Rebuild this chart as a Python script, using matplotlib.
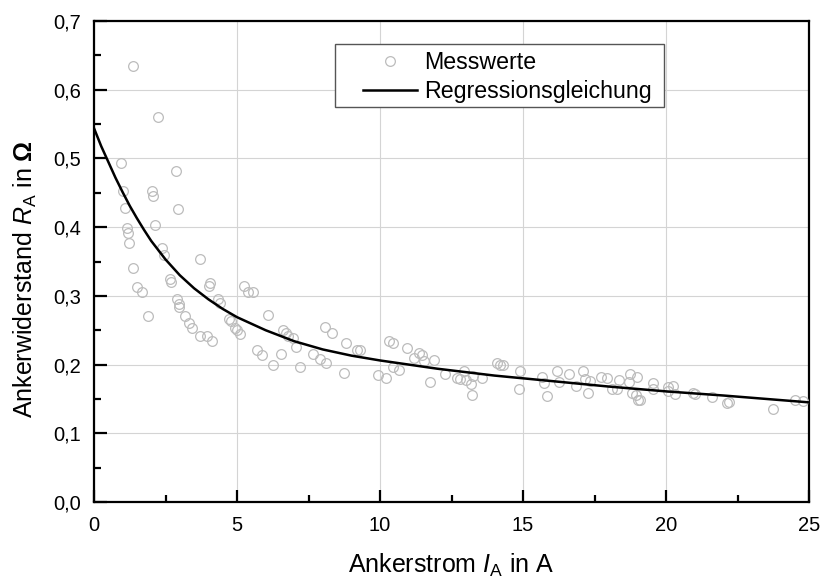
import matplotlib
matplotlib.use("Agg")
import matplotlib.pyplot as plt
from matplotlib.ticker import MultipleLocator, FuncFormatter
from matplotlib.patches import Rectangle

# ---- data ----
strom = [1.35, 2.23, 0.93, 2.86, 1.00, 2.02, 2.05, 1.07, 2.95, 2.13, 1.14, 1.18, 1.22,
         2.39, 2.46, 3.72, 1.35, 2.66, 2.69, 4.06, 1.49, 4.01, 1.69, 2.89, 2.96, 2.96,
         4.35, 4.41, 1.90, 3.18, 3.33, 3.42, 5.24, 5.40, 5.57, 6.10, 4.72, 4.78, 3.96,
         4.11, 3.71, 4.93, 4.99, 5.10, 6.60, 6.70, 6.79, 6.95, 7.05, 8.08, 8.33, 8.81,
         9.18, 9.30, 5.69, 5.86, 6.53, 6.27, 7.67, 7.90, 8.11, 7.20, 8.74, 9.94, 10.31,
         10.47, 10.93, 11.35, 11.46, 11.19, 11.54, 11.89, 10.20, 10.47, 10.66, 11.75,
         12.27, 12.95, 12.70, 12.80, 13.01, 13.26, 13.17, 13.57, 13.22, 14.10, 14.20,
         14.31, 14.90, 14.86, 15.65, 15.75, 15.85, 16.18, 16.27, 16.61, 16.84, 17.09,
         17.17, 17.34, 17.28, 17.72, 17.95, 18.10, 18.30, 18.36, 18.74, 19.00, 18.72,
         18.80, 18.94, 19.01, 19.09, 19.56, 19.56, 20.06, 20.23, 20.06, 20.31, 20.95,
         21.01, 21.60, 22.12, 22.20, 23.75, 24.51, 24.78]
widerstand = [0.635, 0.561, 0.494, 0.481, 0.452, 0.452, 0.445, 0.428, 0.426, 0.403, 0.399,
              0.392, 0.377, 0.369, 0.360, 0.354, 0.341, 0.324, 0.320, 0.319, 0.313, 0.314,
              0.305, 0.295, 0.288, 0.284, 0.295, 0.290, 0.271, 0.271, 0.260, 0.253, 0.315,
              0.306, 0.305, 0.272, 0.266, 0.263, 0.242, 0.234, 0.241, 0.253, 0.250, 0.245,
              0.251, 0.246, 0.241, 0.238, 0.226, 0.254, 0.246, 0.232, 0.221, 0.221, 0.221,
              0.214, 0.215, 0.199, 0.215, 0.208, 0.203, 0.196, 0.188, 0.185, 0.234, 0.231,
              0.224, 0.217, 0.214, 0.210, 0.205, 0.206, 0.181, 0.196, 0.192, 0.174, 0.187,
              0.190, 0.180, 0.179, 0.177, 0.183, 0.171, 0.180, 0.155, 0.202, 0.200, 0.199,
              0.191, 0.164, 0.182, 0.173, 0.154, 0.191, 0.175, 0.187, 0.169, 0.190, 0.179,
              0.176, 0.159, 0.182, 0.181, 0.165, 0.164, 0.177, 0.186, 0.182, 0.174, 0.159,
              0.156, 0.149, 0.148, 0.173, 0.164, 0.167, 0.169, 0.161, 0.157, 0.159, 0.157,
              0.153, 0.144, 0.145, 0.136, 0.148, 0.147]

kurve_strom = [0, 0.25, 0.5, 0.75, 1.0, 1.25, 1.5, 1.75, 2.0, 2.5, 3.0, 3.5, 4.0, 4.5, 5.0,
               6.0, 7.0, 8.0, 9.0, 10.0, 12.0, 14.0, 16.0, 18.0, 20.0, 22.0, 25.0]
kurve_widerstand = [0.544, 0.518, 0.495, 0.472, 0.451, 0.431, 0.413, 0.396, 0.380, 0.353,
                    0.330, 0.311, 0.295, 0.281, 0.269, 0.250, 0.234, 0.222, 0.213, 0.206,
                    0.194, 0.184, 0.176, 0.168, 0.161, 0.155, 0.145]

x_ticks = [0, 5, 10, 15, 20, 25]
y_ticks = [0.0, 0.1, 0.2, 0.3, 0.4, 0.5, 0.6, 0.7]

# ---- style ----
plt.rcParams['font.family'] = ['Liberation Sans', 'DejaVu Sans']
plt.rcParams['mathtext.fontset'] = 'custom'
plt.rcParams['mathtext.rm'] = 'Liberation Sans'
plt.rcParams['mathtext.it'] = 'Liberation Sans:italic'
plt.rcParams['mathtext.bf'] = 'Liberation Sans:bold'

fig = plt.figure(figsize=(8.23, 5.81), dpi=100)
ax = fig.add_axes([94 / 823, (581 - 502) / 581, 715 / 823, 481 / 581])

ax.plot(strom, widerstand, linestyle='none', marker='o', markersize=7.0,
        markerfacecolor='none', markeredgecolor='#bcbcbc', markeredgewidth=0.9,
        label='Messwerte', zorder=3)
ax.plot(kurve_strom, kurve_widerstand, color='black', linewidth=1.8,
        label='Regressionsgleichung', zorder=4)

ax.set_xlim(0, 25)
ax.set_ylim(0, 0.7)
ax.set_xticks(x_ticks)
ax.set_yticks(y_ticks)
ax.xaxis.set_minor_locator(MultipleLocator(2.5))
ax.yaxis.set_minor_locator(MultipleLocator(0.05))
ax.yaxis.set_major_formatter(FuncFormatter(lambda v, p: f"{v:.1f}".replace('.', ',')))

ax.grid(True, which='major', color='#d4d4d4', linewidth=0.8, zorder=0)
ax.set_axisbelow(True)

for s in ax.spines.values():
    s.set_linewidth(1.6)
    s.set_color('black')

ax.tick_params(axis='both', which='major', direction='in', length=9, width=1.6,
               labelsize=14.5, top=False, right=False)
ax.tick_params(axis='both', which='minor', direction='in', length=5, width=1.6,
               top=False, right=False)
ax.tick_params(axis='x', which='major', pad=10)
ax.tick_params(axis='y', which='major', pad=9)

ax.set_xlabel(r'Ankerstrom $I_\mathrm{A}$ in A', fontsize=18, labelpad=12)
ax.set_ylabel(r'Ankerwiderstand $R_\mathrm{A}$ in $\mathbf{\Omega}$', fontsize=18)
ax.yaxis.set_label_coords(-0.077, 0.4626)

# legend frame drawn separately
x0 = (335 - 94) / 715
x1 = (664 - 94) / 715
y0 = (502 - 106.7) / 481
y1 = (502 - 44.3) / 481
ax.add_patch(Rectangle((x0, y0), x1 - x0, y1 - y0, transform=ax.transAxes,
                       facecolor='white', edgecolor='#555555', linewidth=1.0, zorder=5))
leg = ax.legend(loc='upper left', bbox_to_anchor=((363 - 94) / 715, (502 - 51) / 481),
                frameon=False, fontsize=16.7, numpoints=1, handlelength=2.33,
                handletextpad=0.3, borderpad=0, borderaxespad=0, labelspacing=0.27)
leg.set_zorder(6)

fig.savefig('out.png', dpi=100)
